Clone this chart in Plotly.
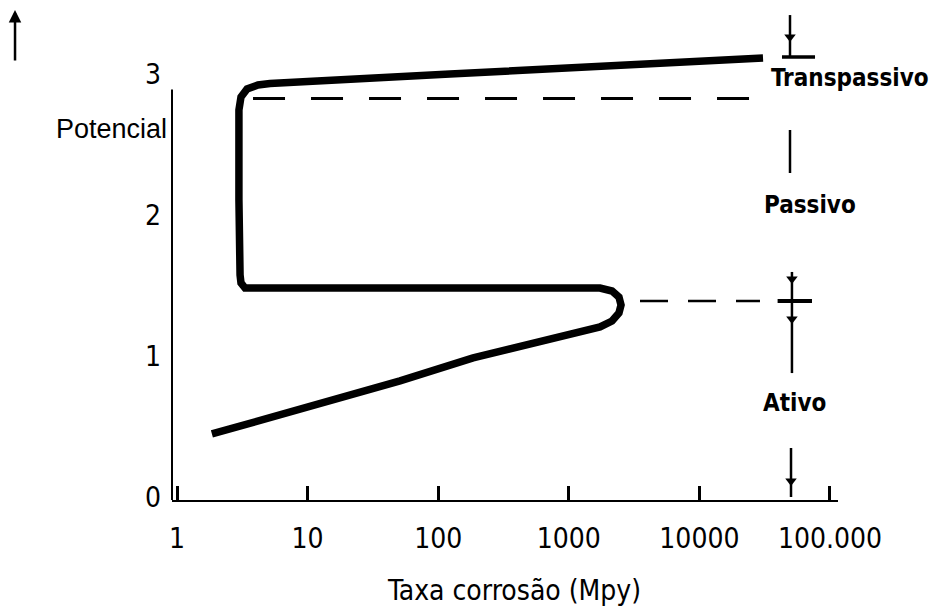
import plotly.graph_objects as go

# Polarization curve: corrosion rate (Mpy, log scale) vs. potential
rate = [1.85, 8.75, 51.0, 185, 602, 1734, 2142, 2422, 2512, 2422, 2142, 1734,
        297, 51.0, 8.75, 3.96, 3.32, 3.09, 3.04, 2.98, 2.98, 3.09, 3.44, 4.17,
        5.15, 123, 4188, 30700]
potential = [0.447, 0.624, 0.823, 0.986, 1.099, 1.206, 1.248, 1.305, 1.362,
             1.418, 1.461, 1.482, 1.482, 1.479, 1.475, 1.472, 1.482, 1.518,
             1.574, 2.106, 2.745, 2.837, 2.894, 2.922, 2.933, 3.0, 3.071, 3.113]

# Dashed reference levels (start rate, end rate, potential)
dash_upper = ([3.82, 27600], 2.826)
dash_lower = ([3510, 29100], 1.39)

# Region boundaries on the right-hand side
region_x = 49400
top_mark = (3.418, 3.121)
passive_mark = (2.603, 2.298)
mid_mark = (1.596, 0.879)
bottom_mark = (0.3475, 0.0)
bar_span = [42900, 76800]
cross_span = [39700, 72800]
arrow_y = [3.262, 1.546, 1.262, 0.113]

# Region names and where they sit (paper coordinates)
region_names = ["Transpassivo", "Passivo", "Ativo"]
region_pos = [(1.018, 0.861), (0.958, 0.602), (0.934, 0.198)]

tick_vals = [1, 10, 100, 1000, 10000, 100000]
tick_text = ["1", "10", "100", "1000", "10000", "100.000"]
y_ticks = [0, 1, 2, 3]

NARROW = "Liberation Sans Narrow, Arial Narrow, DejaVu Sans Condensed, sans-serif"

fig = go.Figure()

fig.add_trace(go.Scatter(x=rate, y=potential, mode="lines",
                         line=dict(color="black", width=7.5),
                         hoverinfo="skip", showlegend=False))

fig.add_trace(go.Scatter(x=dash_upper[0], y=[dash_upper[1]] * 2, mode="lines",
                         line=dict(color="black", width=3, dash="32px,26px"),
                         hoverinfo="skip", showlegend=False))
fig.add_trace(go.Scatter(x=dash_lower[0], y=[dash_lower[1]] * 2, mode="lines",
                         line=dict(color="black", width=2.5, dash="28px,20px"),
                         hoverinfo="skip", showlegend=False))

seg_x = [region_x, region_x, None,
         region_x, region_x, None, region_x * 1.035, region_x * 1.035, None,
         region_x * 1.018, region_x * 1.018]
seg_y = [top_mark[0], top_mark[1], None,
         passive_mark[0], passive_mark[1], None, mid_mark[0], mid_mark[1], None,
         bottom_mark[0], bottom_mark[1]]
fig.add_trace(go.Scatter(x=seg_x, y=seg_y, mode="lines",
                         line=dict(color="black", width=2.5),
                         hoverinfo="skip", showlegend=False))
fig.add_trace(go.Scatter(x=[bar_span[0], bar_span[1]], y=[top_mark[1]] * 2, mode="lines",
                         line=dict(color="black", width=3.5),
                         hoverinfo="skip", showlegend=False))
fig.add_trace(go.Scatter(x=cross_span, y=[dash_lower[1]] * 2, mode="lines",
                         line=dict(color="black", width=4),
                         hoverinfo="skip", showlegend=False))
fig.add_trace(go.Scatter(x=[region_x, region_x * 1.035, region_x * 1.035, region_x * 1.018],
                         y=arrow_y, mode="markers",
                         marker=dict(symbol="triangle-down", size=10, color="black"),
                         hoverinfo="skip", showlegend=False))

# Vertical axis line (stops short of the top)
fig.add_shape(type="line", xref="paper", x0=0, x1=0, yref="y", y0=-0.0213, y1=2.89,
              line=dict(color="black", width=2))

annotations = []
for name, (lx, ly) in zip(region_names, region_pos):
    annotations.append(dict(x=lx, y=ly, xref="paper", yref="paper", text=name,
                            showarrow=False, xanchor="center", yanchor="middle",
                            font=dict(family=NARROW, size=24, color="black",
                                      weight="bold")))
annotations.append(dict(x=-0.0901, y=0.757, xref="paper", yref="paper", text="Potencial",
                        showarrow=False, xanchor="center", yanchor="middle",
                        font=dict(family="Liberation Sans, Arial, sans-serif", size=27,
                                  color="black")))
annotations.append(dict(x=0.514, y=-0.1837, xref="paper", yref="paper",
                        text="Taxa corrosão (Mpy)", showarrow=False,
                        xanchor="center", yanchor="middle",
                        font=dict(family=NARROW, size=28, color="black")))
annotations.append(dict(x=-0.2357, y=1.0, xref="paper", yref="paper", text="",
                        showarrow=True, ax=0, ay=52, arrowhead=2, arrowsize=1,
                        arrowwidth=2.5, arrowcolor="black", standoff=0))
fig.update_layout(annotations=annotations)

fig.update_xaxes(type="log", range=[-0.0383, 5.0613], showline=True, linecolor="black",
                 linewidth=2, ticks="inside", ticklen=14, tickwidth=3, tickcolor="black",
                 tickvals=tick_vals, ticktext=tick_text, showgrid=False, zeroline=False,
                 ticklabelstandoff=12,
                 tickfont=dict(family=NARROW, size=28, color="black"))
fig.update_yaxes(range=[-0.0213, 3.4539], showline=False, ticks="", tickvals=y_ticks,
                 showgrid=False, zeroline=False, ticklabelstandoff=10,
                 tickfont=dict(family=NARROW, size=28, color="black"))

fig.update_layout(width=936, height=610, plot_bgcolor="white", paper_bgcolor="white",
                  margin=dict(l=172, r=98, t=10, b=110), showlegend=False)

fig.write_html("out.html")
